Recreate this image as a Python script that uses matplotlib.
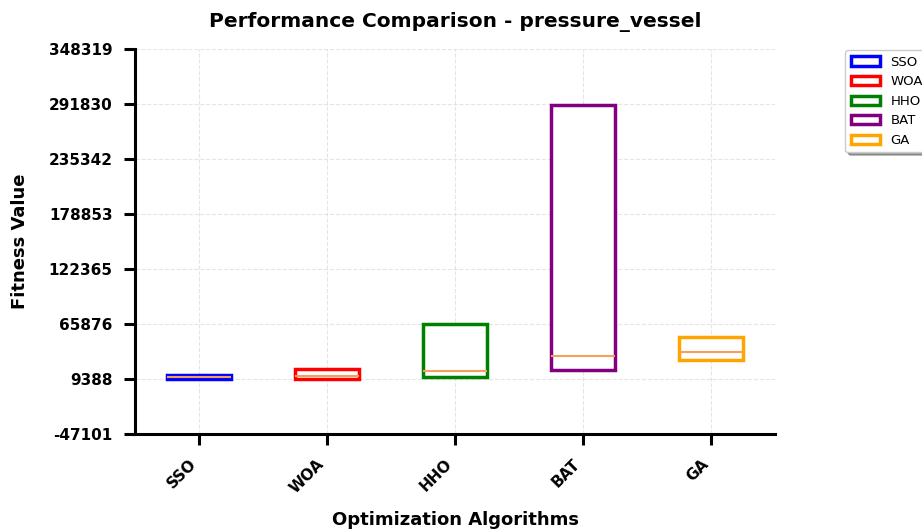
import numpy as np
import matplotlib
matplotlib.use('Agg')
import matplotlib.pyplot as plt
from matplotlib.patches import Patch

# Data
algorithms = ['SSO', 'WOA', 'HHO', 'BAT', 'GA']
colors = ['blue', 'red', 'green', 'purple', 'orange']
q1 = [9000, 9400, 11100, 18650, 28400]
medians = [11200, 12800, 17900, 33300, 37100]
q3 = [13000, 19700, 65900, 290300, 52500]
y_min, y_max = -47101, 348319

fig = plt.figure(figsize=(9.22, 5.32), dpi=100)
ax = fig.add_axes([0.1464, 0.1842, 0.6942, 0.7237])

stats = []
for name, a, m, b in zip(algorithms, q1, medians, q3):
    stats.append({'label': name, 'q1': a, 'med': m, 'q3': b,
                  'whislo': a, 'whishi': b, 'fliers': []})

bp = ax.bxp(stats, positions=range(1, 6), widths=0.5, showcaps=False,
            patch_artist=True,
            medianprops=dict(color='#f5a05a', linewidth=1.5))
for box, c in zip(bp['boxes'], colors):
    box.set_facecolor('white')
    box.set_edgecolor(c)
    box.set_linewidth(2.5)
for w in bp['whiskers']:
    w.set_visible(False)

ax.set_xlim(0.5, 5.5)
ax.set_ylim(y_min, y_max)
yt = np.linspace(y_min, y_max, 8)
ax.set_yticks(yt)
ax.set_yticklabels([f'{v:.0f}' for v in yt], fontweight='bold', fontsize=11)
ax.set_xticks(range(1, 6))
ax.set_xticklabels(algorithms, rotation=45, ha='right', fontweight='bold', fontsize=11)

ax.grid(True, linestyle='--', alpha=0.5, color='#cccccc')
ax.set_axisbelow(True)
for s in ['top', 'right']:
    ax.spines[s].set_visible(False)
for s in ['left', 'bottom']:
    ax.spines[s].set_linewidth(2.2)
ax.tick_params(axis='both', width=2.2, length=8, pad=8)

ax.set_title('Performance Comparison - pressure_vessel', fontweight='bold', fontsize=14.5, pad=16)
ax.set_xlabel('Optimization Algorithms', fontweight='bold', fontsize=13, labelpad=11)
ax.set_ylabel('Fitness Value', fontweight='bold', fontsize=13, labelpad=14)

handles = [Patch(facecolor='white', edgecolor=c, linewidth=2.5, label=n)
           for n, c in zip(algorithms, colors)]
ax.legend(handles=handles, loc='upper left', bbox_to_anchor=(1.108, 1.0),
          fontsize=9.5, shadow=True, handlelength=2.2, borderaxespad=0.1)

fig.savefig('out.png', dpi=100)
